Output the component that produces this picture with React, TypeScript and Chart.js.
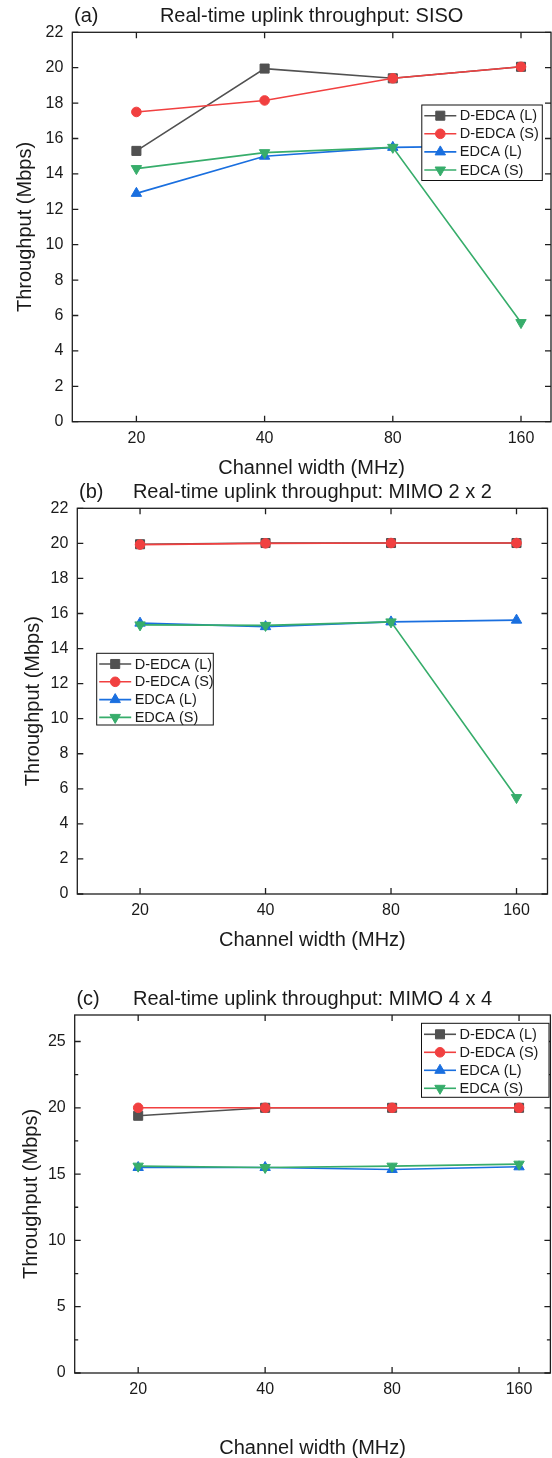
import React, { useEffect, useRef } from 'react';
import { Chart, registerables } from 'chart.js';
import { drawPoint } from 'chart.js/helpers';

Chart.register(...registerables);

const FONT = "'Liberation Sans', Arial, Helvetica, sans-serif";
const TEXT = '#1a1a1a';

// ---- data ----
const channelWidths = ['20', '40', '80', '160'];
const seriesNames = ['D-EDCA (L)', 'D-EDCA (S)', 'EDCA (L)', 'EDCA (S)'];

const sisoDedcaL = [15.3, 19.95, 19.4, 20.05];
const sisoDedcaS = [17.5, 18.15, 19.4, 20.05];
const sisoEdcaL = [12.9, 15.0, 15.5, 15.6];
const sisoEdcaS = [14.3, 15.2, 15.5, 5.6];

const mimo2DedcaL = [19.95, 20.02, 20.02, 20.02];
const mimo2DedcaS = [19.93, 20.0, 20.02, 20.02];
const mimo2EdcaL = [15.45, 15.25, 15.52, 15.62];
const mimo2EdcaS = [15.35, 15.32, 15.52, 5.5];

const mimo4DedcaL = [19.4, 20.0, 20.0, 20.0];
const mimo4DedcaS = [20.0, 20.0, 20.0, 20.0];
const mimo4EdcaL = [15.5, 15.5, 15.35, 15.55];
const mimo4EdcaS = [15.6, 15.5, 15.6, 15.75];

const yTicks22 = [0, 2, 4, 6, 8, 10, 12, 14, 16, 18, 20, 22];
const yTicks27 = [0, 5, 10, 15, 20, 25];
const yMinor27 = [2.5, 7.5, 12.5, 17.5, 22.5];

// ---- styles ----
const seriesColors = ['#515151', '#F14040', '#1A6FDF', '#37AD6B'];
const seriesMarkers = ['rect', 'circle', 'triangle', 'triangle'];
const seriesRotation = [0, 0, 0, 180];
const seriesRadius = [6.4, 4.8, 6, 6];

type LegendBox = { x: number; y: number; w: number; h: number; first: number; row: number };
type PanelDef = {
  tag: string;
  title: string;
  values: number[][];
  yMax: number;
  yTicks: number[];
  yMinor: number[];
  xMax: number;
  canvasTop: number;
  canvasH: number;
  plotLeft: number;
  padTop: number;
  padRight: number;
  xAxisH: number;
  yTitleCenter: number;
  xTitlePad: number;
  legend: LegendBox;
};

const panels: PanelDef[] = [
  {
    tag: '(a)',
    title: 'Real-time uplink throughput: SISO',
    values: [sisoDedcaL, sisoDedcaS, sisoEdcaL, sisoEdcaS],
    yMax: 22,
    yTicks: yTicks22,
    yMinor: [],
    xMax: 3.234,
    canvasTop: 0,
    canvasH: 480,
    plotLeft: 72.3,
    padTop: 32.3,
    padRight: 1,
    xAxisH: 58.3,
    yTitleCenter: 25.3,
    xTitlePad: 1.7,
    legend: { x: 421.8, y: 105, w: 120.5, h: 75.5, first: 115.7, row: 18.1 },
  },
  {
    tag: '(b)',
    title: 'Real-time uplink throughput: MIMO 2 x 2',
    values: [mimo2DedcaL, mimo2DedcaS, mimo2EdcaL, mimo2EdcaS],
    yMax: 22,
    yTicks: yTicks22,
    yMinor: [],
    xMax: 3.247,
    canvasTop: 480,
    canvasH: 490,
    plotLeft: 77.3,
    padTop: 28.3,
    padRight: 4.5,
    xAxisH: 76,
    yTitleCenter: 33.5,
    xTitlePad: 20,
    legend: { x: 96.7, y: 173.3, w: 116.6, h: 71.7, first: 184, row: 17.8 },
  },
  {
    tag: '(c)',
    title: 'Real-time uplink throughput: MIMO 4 x 4',
    values: [mimo4DedcaL, mimo4DedcaS, mimo4EdcaL, mimo4EdcaS],
    yMax: 27,
    yTicks: yTicks27,
    yMinor: yMinor27,
    xMax: 3.247,
    canvasTop: 970,
    canvasH: 488,
    plotLeft: 74.7,
    padTop: 45,
    padRight: 1.6,
    xAxisH: 85,
    yTitleCenter: 31.3,
    xTitlePad: 0,
    legend: { x: 421.5, y: 53.3, w: 127.5, h: 74, first: 64.3, row: 18 },
  },
];

function PanelChart({ p }: { p: PanelDef }) {
  const ref = useRef<HTMLCanvasElement>(null);

  useEffect(() => {
    const canvas = ref.current;
    if (!canvas) return;

    const datasets = seriesNames.map((name, i) => ({
      label: name,
      data: channelWidths.map((_, j) => ({ x: j, y: p.values[i][j] })),
      borderColor: seriesColors[i],
      backgroundColor: seriesColors[i],
      pointBackgroundColor: seriesColors[i],
      pointBorderColor: seriesColors[i],
      pointStyle: seriesMarkers[i] as any,
      pointRotation: seriesRotation[i],
      pointRadius: seriesRadius[i],
      pointBorderWidth: 1,
      borderWidth: 1.6,
      tension: 0,
      order: seriesNames.length - i,
    }));

    const decorPlugin = {
      id: 'decor',
      afterDraw(chart: any) {
        const { ctx, chartArea: a, scales } = chart;
        ctx.save();
        // frame
        ctx.strokeStyle = '#1e1e1e';
        ctx.lineWidth = 1.3;
        ctx.strokeRect(a.left, a.top, a.right - a.left, a.bottom - a.top);
        // inward ticks
        ctx.beginPath();
        p.yTicks.forEach((v) => {
          const y = scales.y.getPixelForValue(v);
          ctx.moveTo(a.left, y);
          ctx.lineTo(a.left + 6, y);
          ctx.moveTo(a.right, y);
          ctx.lineTo(a.right - 6, y);
        });
        p.yMinor.forEach((v) => {
          const y = scales.y.getPixelForValue(v);
          ctx.moveTo(a.left, y);
          ctx.lineTo(a.left + 3.5, y);
          ctx.moveTo(a.right, y);
          ctx.lineTo(a.right - 3.5, y);
        });
        channelWidths.forEach((_, i) => {
          const x = scales.x.getPixelForValue(i);
          ctx.moveTo(x, a.bottom);
          ctx.lineTo(x, a.bottom - 6);
          ctx.moveTo(x, a.top);
          ctx.lineTo(x, a.top + 6);
        });
        ctx.stroke();

        // legend
        const L = p.legend;
        ctx.fillStyle = '#ffffff';
        ctx.fillRect(L.x, L.y, L.w, L.h);
        ctx.strokeStyle = '#111111';
        ctx.lineWidth = 1;
        ctx.strokeRect(L.x, L.y, L.w, L.h);
        ctx.font = `14.5px ${FONT}`;
        ctx.textBaseline = 'middle';
        ctx.textAlign = 'left';
        seriesNames.forEach((name, i) => {
          const y = L.first + i * L.row;
          const x0 = L.x + 2.5;
          const x1 = L.x + 34.5;
          ctx.strokeStyle = seriesColors[i];
          ctx.lineWidth = 1.6;
          ctx.beginPath();
          ctx.moveTo(x0, y);
          ctx.lineTo(x1, y);
          ctx.stroke();
          ctx.fillStyle = seriesColors[i];
          ctx.strokeStyle = seriesColors[i];
          ctx.lineWidth = 1;
          drawPoint(ctx, { pointStyle: seriesMarkers[i] as any, rotation: seriesRotation[i], radius: seriesRadius[i], borderWidth: 1 }, (x0 + x1) / 2, y);
          ctx.fillStyle = TEXT;
          ctx.fillText(name, L.x + 38, y + 0.5);
        });

        // titles
        ctx.fillStyle = TEXT;
        ctx.font = `20px ${FONT}`;
        ctx.textBaseline = 'middle';
        ctx.textAlign = 'left';
        ctx.fillText(p.tag, a.left + 1.7, a.top - 15.5);
        ctx.textAlign = 'center';
        ctx.fillText(p.title, (a.left + a.right) / 2, a.top - 15.5);
        ctx.restore();
      },
    };

    const chart = new Chart(canvas, {
      type: 'line',
      data: { datasets: datasets as any },
      options: {
        animation: false,
        responsive: false,
        devicePixelRatio: 1,
        layout: { autoPadding: false, padding: { top: p.padTop, right: p.padRight, left: 0, bottom: 0 } },
        plugins: { legend: { display: false }, tooltip: { enabled: false }, title: { display: false } },
        scales: {
          x: {
            type: 'linear',
            min: -0.5,
            max: p.xMax,
            afterBuildTicks: (s: any) => {
              s.ticks = channelWidths.map((_, i) => ({ value: i }));
            },
            afterFit: (s: any) => {
              s.height = p.xAxisH;
              s.paddingLeft = 0;
              s.paddingRight = 0;
            },
            grid: { display: false, drawTicks: false },
            border: { display: false },
            ticks: {
              padding: 7,
              autoSkip: false,
              maxRotation: 0,
              color: TEXT,
              font: { size: 16, family: FONT },
              callback: (v: any) => channelWidths[v as number] ?? '',
            },
            title: {
              display: true,
              text: 'Channel width (MHz)',
              color: TEXT,
              font: { size: 20, family: FONT, lineHeight: 1 },
              padding: { top: 0, bottom: p.xTitlePad },
            },
          },
          y: {
            type: 'linear',
            min: 0,
            max: p.yMax,
            afterBuildTicks: (s: any) => {
              s.ticks = p.yTicks.map((v) => ({ value: v }));
            },
            afterFit: (s: any) => {
              s.width = p.plotLeft;
              s.paddingTop = 0;
              s.paddingBottom = 0;
            },
            grid: { display: false, drawTicks: false },
            border: { display: false },
            ticks: {
              padding: 9,
              color: TEXT,
              font: { size: 16, family: FONT },
              callback: (v: any) => String(v),
            },
            title: {
              display: true,
              text: 'Throughput (Mbps)',
              color: TEXT,
              font: { size: 20, family: FONT, lineHeight: 1 },
              padding: { top: p.yTitleCenter - 10, bottom: 0 },
            },
          },
        },
      },
      plugins: [decorPlugin],
    });

    return () => chart.destroy();
  }, [p]);

  return (
    <canvas
      ref={ref}
      width={552}
      height={p.canvasH}
      style={{ position: 'absolute', left: 0, top: p.canvasTop, width: 552, height: p.canvasH, display: 'block' }}
    />
  );
}

export default function App() {
  return (
    <div style={{ position: 'absolute', left: 0, top: 0, width: 552, height: 1458, background: '#ffffff', overflow: 'hidden' }}>
      {panels.map((p) => (
        <PanelChart key={p.tag} p={p} />
      ))}
    </div>
  );
}
